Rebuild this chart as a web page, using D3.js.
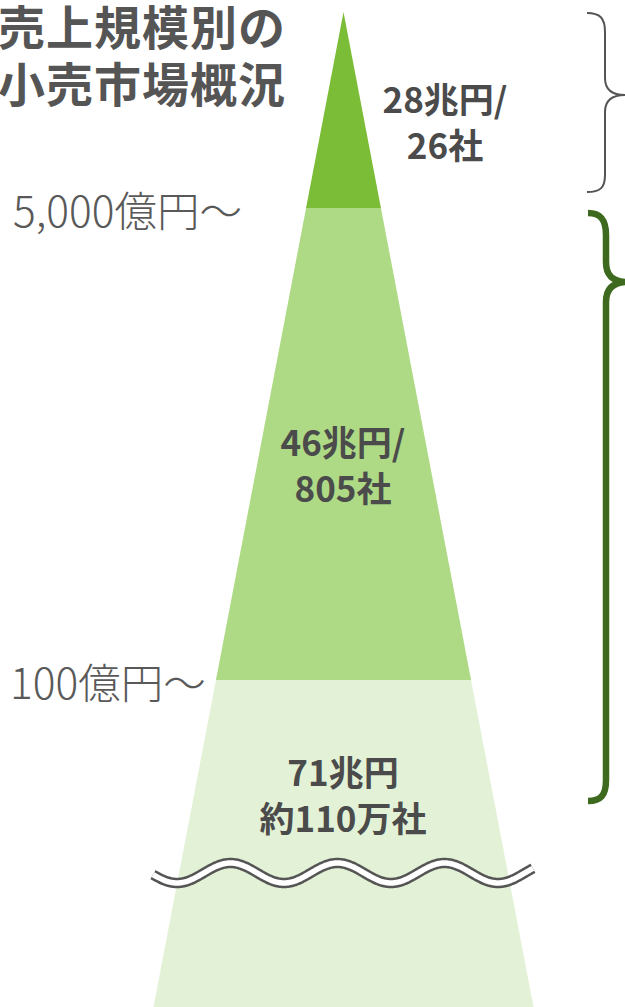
<!DOCTYPE html>
<html>
<head>
<meta charset="utf-8">
<script src="https://cdn.jsdelivr.net/npm/d3@7"></script>
<style>
  html, body { margin: 0; padding: 0; background: #fff; }
  svg { display: block; }
  text { font-family: "Noto Sans CJK JP", "Noto Sans", sans-serif; }
</style>
</head>
<body>
<div id="chart"></div>
<script>
// ---- data ----
const titleLines = ["売上規模別の", "小売市場概況"];
const tierAmounts = ["28兆円/", "46兆円/", "71兆円"];
const tierCompanies = ["26社", "805社", "約110万社"];
const thresholdLabels = ["5,000億円〜", "100億円〜"];

// ---- layout ----
const W = 625, H = 1007;
const apex = { x: 343.5, y: 12 };
const bounds = [12, 208, 680, 1007];           // tier boundaries (px)
const tierColors = ["#7bbd37", "#aeda85", "#e3f2d6"];
const labelPos = [{ x: 445, y: 97 }, { x: 343, y: 440 }, { x: 343, y: 770 }];
const lineGap = 46;

const svg = d3.select("#chart").append("svg")
  .attr("width", W).attr("height", H).attr("viewBox", `0 0 ${W} ${H}`);

const half = d3.scaleLinear().domain([apex.y, H]).range([0, 190]);

// tiers
const tiers = tierAmounts.map((a, i) => ({ amount: a, company: tierCompanies[i], y0: bounds[i], y1: bounds[i + 1], color: tierColors[i], pos: labelPos[i] }));

svg.selectAll("path.tier").data(tiers).join("path")
  .attr("class", "tier")
  .attr("fill", d => d.color)
  .attr("d", d => {
    const a = half(d.y0), b = half(d.y1);
    return `M${apex.x - a},${d.y0}L${apex.x + a},${d.y0}L${apex.x + b},${d.y1}L${apex.x - b},${d.y1}Z`;
  });

// wave break
const waveX0 = 153, waveX1 = 533, waveY = 873, amp = 10, period = 107, trough = 177;
const wavePts = d3.range(waveX0, waveX1 + 0.5, 1).map(x => [x, waveY + amp * Math.cos(2 * Math.PI * (x - trough) / period)]);
const waveLine = d3.line().curve(d3.curveBasis);
svg.append("path").attr("d", waveLine(wavePts)).attr("fill", "none")
  .attr("stroke", "#555").attr("stroke-width", 10.5).attr("stroke-linecap", "butt");
svg.append("path").attr("d", waveLine(wavePts)).attr("fill", "none")
  .attr("stroke", "#fff").attr("stroke-width", 5.5).attr("stroke-linecap", "butt");

// tier labels
const lbl = svg.selectAll("g.lbl").data(tiers).join("g").attr("class", "lbl");
lbl.append("text")
  .attr("x", d => d.pos.x).attr("y", d => d.pos.y)
  .attr("text-anchor", "middle").attr("dominant-baseline", "central")
  .attr("font-size", 35).attr("font-weight", 700).attr("fill", "#4b4b4b")
  .text(d => d.amount);
lbl.append("text")
  .attr("x", d => d.pos.x).attr("y", d => d.pos.y + lineGap)
  .attr("text-anchor", "middle").attr("dominant-baseline", "central")
  .attr("font-size", 35).attr("font-weight", 700).attr("fill", "#4b4b4b")
  .text(d => d.company);

// threshold labels
svg.selectAll("text.thr").data(thresholdLabels).join("text")
  .attr("class", "thr")
  .attr("x", (d, i) => i === 0 ? 13 : 10)
  .attr("y", (d, i) => bounds[i + 1])
  .attr("dominant-baseline", "central")
  .attr("font-size", 42.5).attr("font-weight", 300).attr("fill", "#595959")
  .text(d => d);

// title
svg.selectAll("text.title").data(titleLines).join("text")
  .attr("class", "title")
  .attr("x", -2).attr("y", (d, i) => 24 + i * 57)
  .attr("dominant-baseline", "central")
  .attr("font-size", 47).attr("font-weight", 700).attr("fill", "#555")
  .attr("letter-spacing", 1)
  .text(d => d);

// braces
svg.append("path")
  .attr("d", "M587,13 C600,13 605,18 605,32 L605,78 C605,90 612,95 625,95 C612,95 605,100 605,112 L605,175 C605,188 600,192 587,192")
  .attr("fill", "none").attr("stroke", "#555").attr("stroke-width", 2);
svg.append("path")
  .attr("d", "M588,213 C601,213 606,220 606,235 L606,262 C606,275 612,282 628,282 C612,282 606,290 606,302 L606,780 C606,795 601,801 588,801")
  .attr("fill", "none").attr("stroke", "#3d6a1e").attr("stroke-width", 6.5);
</script>
</body>
</html>
